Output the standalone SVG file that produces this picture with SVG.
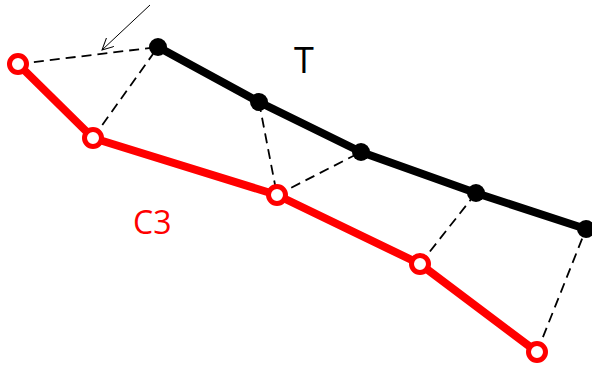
<svg xmlns="http://www.w3.org/2000/svg" width="592" height="366" viewBox="0 0 592 366">
<style>
.dash{stroke:#000;stroke-width:1.8;stroke-dasharray:10,6;fill:none}
.blk{stroke:#000;stroke-width:8;fill:none;stroke-linejoin:round}
.red{stroke:#f00;stroke-width:8;fill:none;stroke-linejoin:round}
.rc{fill:#fff;stroke:#f00;stroke-width:5}
.bc{fill:#000}
.lbl{font-family:"Open Sans","Liberation Sans",sans-serif}
</style>
<defs>
<marker id="arr" markerWidth="14" markerHeight="12" refX="12" refY="6" orient="auto" markerUnits="userSpaceOnUse">
<path d="M0,0 L12,6 L0,12" fill="none" stroke="#000" stroke-width="1"/>
</marker>
</defs>
<g id="connectors">
<line class="dash" x1="18" y1="64" x2="158" y2="47"/>
<line class="dash" x1="93" y1="138" x2="158" y2="47"/>
<line class="dash" x1="259" y1="102" x2="277" y2="195"/>
<line class="dash" x1="277" y1="195" x2="361" y2="152"/>
<line class="dash" x1="420" y1="264" x2="476" y2="193"/>
<line class="dash" x1="537" y1="352" x2="586" y2="229"/>
<line x1="150" y1="5" x2="102" y2="50" stroke="#000" stroke-width="1" marker-end="url(#arr)"/>
<polyline id="T-line" class="blk" points="158,47 259,102 361,152 476,193 586,229"/>
<polyline id="C3-line" class="red" points="18,64 93,138 277,195 420,264 537,352"/>
</g>
<g id="T-nodes">
<circle class="bc" cx="158" cy="47" r="9"/>
<circle class="bc" cx="259" cy="102" r="9"/>
<circle class="bc" cx="361" cy="152" r="9"/>
<circle class="bc" cx="476" cy="193" r="9"/>
<circle class="bc" cx="586" cy="229" r="9"/>
</g>
<g id="C3-nodes">
<circle class="rc" cx="18" cy="64" r="8.5"/>
<circle class="rc" cx="93" cy="138" r="8.5"/>
<circle class="rc" cx="277" cy="195" r="8.5"/>
<circle class="rc" cx="420" cy="264" r="8.5"/>
<circle class="rc" cx="537" cy="352" r="8.5"/>
</g>
<g id="labels">
<text class="lbl" x="294" y="73" font-size="36" fill="#000">T</text>
<text class="lbl" x="133" y="234" font-size="32" fill="#f00">C3</text>
</g>
</svg>
